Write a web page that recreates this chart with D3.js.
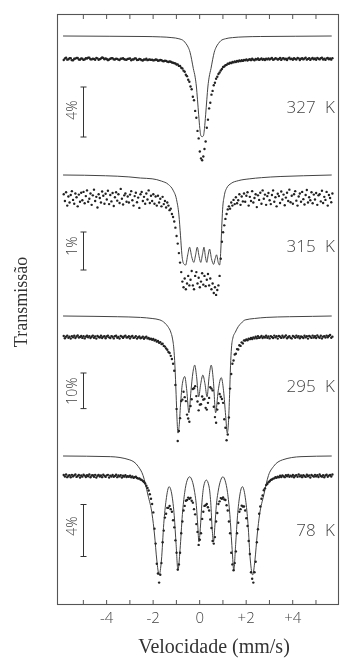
<!DOCTYPE html>
<html>
<head>
<meta charset="utf-8">
<script src="https://cdn.jsdelivr.net/npm/d3@7"></script>
<style>
  html, body { margin: 0; padding: 0; background: #fff; }
  svg { display: block; filter: grayscale(1); }
</style>
</head>
<body>
<svg id="chart" width="342" height="659"></svg>
<script>
// velocity channels, mm/s (-5.8 ... 5.75, step 0.05)
const velStart = -5.8, velStep = 0.05, velCount = 232;
const velocity = d3.range(velCount).map(i => +(velStart + i * velStep).toFixed(2));

const temperatures = ['327 K', '315 K', '295 K', '78 K'];
const scaleBarPct = [4, 1, 10, 4];
const scaleBarText = ['4%', '1%', '10%', '4%'];
const xTicks = [-5, -4, -3, -2, -1, 0, 1, 2, 3, 4, 5];
const xTickText = { '-4': '-4', '-2': '-2', '0': '0', '2': '+2', '4': '+4' };

// measured points, % relative to baseline (negative = absorption)
// rows: -5.8..-5.05 | -5..-4.05 | ... | 4..4.95 | 5..5.75
const dots327 = [
  -0.08, 0.04, 0.1, -0.05, -0.02, 0.07, 0.06, -0.09, -0.1, 0.02, 0.03, 0.09, 0.08, -0.04, -0.05, 0.05,
  0.02, -0.07, -0.03, 0.06, 0.04, 0.11, 0.1, -0.02, -0.03, 0.03, 0.0, -0.06, 0.09, 0.05, -0.06, -0.01, 0.05, 0.12, 0.08, -0.02,
  0.04, 0.0, -0.09, -0.04, 0.02, 0.06, 0.07, -0.03, -0.04, 0.03, 0.01, -0.05, -0.08, 0.02, 0.03, 0.06, -0.02, -0.05, -0.06, 0.01,
  0.02, 0.05, -0.1, -0.03, -0.04, 0.04, 0.05, -0.08, -0.07, 0.0, -0.02, -0.09, -0.12, -0.03, -0.05, 0.02, -0.09, -0.06, -0.03, -0.07,
  -0.05, -0.11, -0.09, -0.04, -0.06, -0.14, -0.12, -0.08, -0.1, -0.16, -0.18, -0.13, -0.15, -0.21, -0.24, -0.2, -0.22, -0.28, -0.3, -0.33,
  -0.36, -0.44, -0.43, -0.55, -0.56, -0.7, -0.76, -0.93, -1.02, -1.26, -1.37, -1.66, -1.82, -2.2, -2.42, -3.02, -3.3, -4.15, -4.7, -5.75,
  -6.35, -7.4, -7.95, -8.1, -7.8, -7.2, -6.6, -5.5, -4.85, -3.95, -3.5, -2.85, -2.55, -2.1, -1.9, -1.58, -1.42, -1.2, -1.08, -0.92,
  -0.8, -0.64, -0.6, -0.5, -0.47, -0.37, -0.38, -0.3, -0.33, -0.24, -0.27, -0.19, -0.24, -0.16, -0.2, -0.12, -0.17, -0.1, -0.15, -0.08,
  -0.1, -0.03, -0.12, -0.06, -0.02, -0.09, 0.02, -0.05, -0.1, 0.01, -0.04, 0.05, -0.07, -0.02, 0.04, -0.06, 0.0, -0.08, 0.03, -0.03,
  0.05, -0.04, 0.02, 0.08, -0.06, -0.02, 0.07, 0.03, -0.05, 0.0, 0.09, -0.07, 0.04, 0.06, -0.03, 0.02, -0.08, 0.05, 0.1, -0.01,
  0.03, -0.06, 0.07, 0.0, -0.04, 0.09, 0.05, -0.08, 0.02, 0.06, -0.03, 0.04, 0.1, -0.05, 0.01, 0.07, -0.07, 0.03, 0.08, -0.02,
  0.04, -0.06, 0.09, 0.02, -0.03, 0.06, 0.1, -0.04, 0.03, -0.07, 0.05, 0.08, -0.02, 0.04, -0.05, 0.07
];
const dots315 = [
  0.1, -0.08, 0.15, -0.2, 0.04, -0.12, 0.08, 0.18, -0.05, -0.15, 0.12, 0.02, -0.22, 0.09, -0.1, 0.14,
  -0.06, 0.16, -0.14, 0.05, 0.2, -0.1, -0.02, 0.12, -0.18, 0.07, 0.22, -0.08, 0.03, -0.25, 0.1, 0.0, -0.12, 0.17, 0.06, -0.15,
  0.11, -0.04, 0.19, -0.16, 0.08, -0.09, 0.13, -0.21, 0.02, 0.15, -0.07, 0.1, -0.13, 0.24, -0.02, -0.17, 0.07, 0.12, -0.1, 0.04,
  -0.12, 0.09, 0.18, -0.06, -0.2, 0.05, 0.14, -0.11, 0.01, -0.26, 0.1, 0.16, -0.08, 0.03, -0.15, 0.12, -0.04, 0.2, -0.13, 0.06,
  -0.08, 0.1, -0.15, 0.04, -0.2, 0.06, -0.12, -0.02, -0.22, 0.03, -0.16, -0.08, -0.25, -0.12, -0.2, -0.32, -0.28, -0.42, -0.5, -0.62,
  -0.78, -1.0, -1.2, -1.45, -1.7, -1.95, -2.2, -2.35, -2.12, -2.4, -2.25, -2.05, -2.3, -2.15, -1.92, -2.3, -2.4, -2.05, -1.95, -2.25,
  -2.1, -2.35, -2.2, -1.98, -2.28, -2.05, -2.32, -2.15, -2.0, -2.3, -2.12, -2.4, -2.25, -2.5, -2.35, -2.55, -2.42, -2.3, -2.05, -1.6,
  -1.15, -0.9, -0.72, -0.55, -0.42, -0.3, -0.22, -0.28, -0.12, -0.2, -0.05, -0.16, 0.02, -0.14, -0.06, 0.1, -0.18, 0.04, -0.09, 0.12,
  -0.1, 0.06, 0.15, -0.2, 0.03, -0.08, 0.18, -0.12, 0.0, 0.1, -0.24, 0.07, -0.05, 0.14, -0.15, 0.2, -0.02, 0.09, -0.18, 0.05,
  0.13, -0.06, -0.16, 0.08, 0.2, -0.1, 0.02, -0.22, 0.11, 0.05, -0.13, 0.17, -0.04, 0.09, -0.19, 0.01, 0.14, -0.08, 0.22, -0.11,
  0.06, -0.15, 0.1, 0.18, -0.07, -0.2, 0.04, 0.12, -0.1, 0.16, -0.03, -0.17, 0.08, 0.21, -0.12, 0.02, -0.06, 0.15, -0.14, 0.09,
  -0.04, 0.13, -0.18, 0.07, 0.1, -0.09, 0.19, -0.13, 0.03, -0.05, 0.16, -0.2, 0.08, 0.0, -0.11, 0.12
];
const dots295 = [
  0.3, -0.35, 0.1, 0.4, -0.2, 0.05, -0.45, 0.25, -0.1, 0.35, -0.3, 0.15, 0.45, -0.15, 0.0, 0.3,
  -0.25, 0.2, -0.4, 0.1, 0.35, -0.1, 0.25, -0.3, 0.05, 0.4, -0.2, 0.15, -0.45, 0.3, 0.0, -0.15, 0.35, -0.3, 0.1, 0.2,
  -0.35, 0.15, 0.4, -0.1, -0.3, 0.25, 0.05, -0.4, 0.2, 0.35, -0.2, 0.0, -0.45, 0.3, 0.1, -0.25, 0.15, 0.4, -0.15, -0.05,
  0.2, -0.4, 0.1, 0.3, -0.25, -0.1, 0.25, -0.45, -0.05, 0.15, -0.35, -0.2, 0.05, -0.5, -0.15, 0.1, -0.4, -0.3, -0.6, -0.45,
  -0.8, -0.55, -1.0, -0.85, -1.3, -1.1, -1.6, -1.45, -2.0, -1.9, -2.5, -2.7, -3.2, -3.6, -4.2, -4.5, -5.3, -6.2, -7.5, -9.5,
  -13.5, -20.2, -29.2, -26.4, -22.8, -18.0, -17.6, -15.4, -16.9, -18.0, -21.8, -22.9, -23.8, -19.4, -17.5, -14.6, -14.4, -13.8, -16.6, -18.1,
  -20.6, -19.0, -18.9, -16.7, -17.6, -17.4, -19.9, -20.4, -18.5, -17.1, -14.1, -14.5, -15.0, -19.6, -22.5, -24.1, -20.4, -18.6, -16.0, -16.8,
  -17.4, -18.5, -23.1, -25.5, -29.0, -27.4, -22.6, -14.5, -10.4, -7.5, -6.6, -4.9, -4.7, -3.4, -3.5, -2.3, -2.5, -1.5, -1.8, -0.95,
  -1.0, -0.7, -0.9, -0.45, -0.6, -0.3, -0.55, -0.1, -0.4, 0.05, -0.35, 0.2, -0.25, -0.05, 0.3, -0.3, 0.1, -0.15, 0.35, -0.2,
  0.15, -0.4, 0.25, 0.0, -0.3, 0.4, -0.1, 0.2, -0.45, 0.3, 0.05, -0.25, 0.35, -0.15, 0.1, 0.45, -0.35, 0.0, 0.25, -0.2,
  -0.4, 0.3, 0.1, -0.2, 0.4, -0.05, 0.25, -0.35, 0.15, 0.0, -0.3, 0.35, -0.1, 0.2, -0.45, 0.3, 0.05, -0.25, 0.4, -0.15,
  0.2, -0.3, 0.45, 0.0, -0.2, 0.35, -0.4, 0.1, 0.25, -0.15, 0.4, -0.05, 0.3, 0.55, -0.2, 0.1
];
const dots78 = [
  0.08, -0.04, 0.11, -0.09, 0.02, 0.06, -0.1, 0.09, -0.03, 0.05, 0.12, -0.07, 0.0, 0.08, -0.11, 0.04,
  -0.05, 0.1, 0.03, -0.08, 0.07, -0.02, 0.11, -0.1, 0.04, 0.06, -0.06, 0.09, -0.12, 0.02, 0.08, -0.04, 0.05, -0.09, 0.1, 0.01,
  -0.07, 0.05, 0.09, -0.11, 0.03, -0.04, 0.08, -0.06, 0.0, 0.1, -0.09, 0.04, -0.03, 0.07, -0.12, 0.02, -0.05, 0.06, -0.08, -0.02,
  -0.06, 0.03, -0.1, -0.04, -0.13, -0.1, -0.06, -0.15, -0.2, -0.18, -0.27, -0.3, -0.38, -0.46, -0.58, -0.75, -0.92, -1.12, -1.4, -1.75,
  -2.15, -2.8, -4.05, -5.2, -6.75, -7.5, -8.2, -7.6, -6.7, -5.1, -4.2, -3.2, -2.9, -2.45, -2.45, -2.3, -2.55, -2.75, -3.4, -3.95,
  -4.95, -5.9, -7.2, -6.8, -5.9, -4.4, -3.5, -2.65, -2.3, -1.9, -1.85, -1.66, -1.76, -1.68, -1.9, -2.05, -2.55, -2.95, -3.7, -4.3,
  -5.3, -4.9, -4.4, -3.3, -2.75, -2.3, -2.25, -2.15, -2.4, -2.65, -3.35, -4.0, -5.0, -5.2, -4.7, -3.5, -2.85, -2.15, -1.95, -1.7,
  -1.75, -1.65, -1.8, -1.85, -2.25, -2.65, -3.5, -4.4, -5.9, -6.8, -7.25, -6.7, -5.8, -4.4, -3.6, -2.75, -2.55, -2.28, -2.35, -2.35,
  -2.65, -3.25, -3.85, -5.0, -6.0, -7.4, -7.9, -8.2, -7.4, -6.6, -5.1, -4.1, -2.9, -2.35, -1.75, -1.5, -1.1, -0.95, -0.7, -0.62,
  -0.48, -0.4, -0.3, -0.27, -0.2, -0.18, -0.1, -0.14, -0.05, -0.1, 0.02, -0.08, 0.05, -0.03, -0.09, 0.06, -0.02, 0.09, -0.06, 0.03,
  -0.04, 0.08, -0.1, 0.02, 0.07, -0.06, 0.11, -0.03, 0.04, -0.09, 0.06, 0.0, -0.07, 0.1, -0.02, 0.05, -0.11, 0.08, 0.01, -0.05,
  0.09, -0.03, 0.06, -0.08, 0.12, 0.0, -0.05, 0.07, -0.1, 0.04, 0.1, -0.06, 0.03, 0.08, -0.04, 0.11
];

// fitted curves, [velocity, %]
const fit327 = [
  [-5.83, 0], [-3.85, -0.02], [-2.35, -0.04], [-1.65, -0.07], [-1.15, -0.13], [-0.85, -0.22],
  [-0.65, -0.38], [-0.55, -0.6], [-0.45, -0.9], [-0.37, -1.3], [-0.3, -1.9], [-0.23, -2.6],
  [-0.15, -3.3], [-0.1, -4.0], [-0.05, -5.1], [0.0, -6.3], [0.05, -7.4], [0.1, -8.0], [0.15, -8.05],
  [0.2, -8.0], [0.25, -7.4], [0.3, -6.3], [0.35, -5.1], [0.4, -4.0], [0.45, -3.3], [0.53, -2.6],
  [0.6, -1.9], [0.67, -1.3], [0.75, -0.9], [0.85, -0.6], [0.95, -0.38], [1.15, -0.22],
  [1.45, -0.13], [1.95, -0.07], [2.65, -0.04], [4.15, -0.02], [5.72, 0]
];
const fit315 = [
  [-5.83, 0], [-4, -0.02], [-3, -0.05], [-2.5, -0.08], [-2.0, -0.1], [-1.6, -0.16], [-1.3, -0.25],
  [-1.1, -0.4], [-0.95, -0.65], [-0.85, -1.05], [-0.78, -1.6], [-0.72, -2.1], [-0.65, -2.33],
  [-0.56, -2.37], [-0.47, -2.1], [-0.39, -1.9], [-0.3, -2.15], [-0.21, -2.3], [-0.13, -2.1],
  [-0.06, -1.9], [0.02, -2.15], [0.09, -2.3], [0.16, -2.1], [0.23, -1.9], [0.29, -2.15],
  [0.35, -2.3], [0.41, -2.1], [0.47, -1.95], [0.55, -2.2], [0.64, -2.35], [0.71, -2.2],
  [0.77, -2.1], [0.84, -2.3], [0.9, -2.37], [0.95, -2.0], [0.99, -1.4], [1.03, -0.9],
  [1.1, -0.55], [1.2, -0.35], [1.4, -0.22], [1.7, -0.15], [2.2, -0.1], [2.7, -0.07],
  [3.5, -0.04], [4.5, -0.02], [5.72, 0]
];
const fit295 = [
  [-5.83, 0], [-4.5, -0.1], [-3.5, -0.2], [-2.5, -0.4], [-2.0, -0.7], [-1.67, -1.1], [-1.45, -2.0],
  [-1.32, -3.0], [-1.2, -4.5], [-1.13, -6.2], [-1.07, -9], [-1.02, -14], [-0.97, -22], [-0.93, -29],
  [-0.89, -32.9], [-0.84, -31], [-0.78, -25], [-0.7, -19], [-0.6, -17], [-0.51, -21], [-0.42, -27.2],
  [-0.33, -21], [-0.25, -16], [-0.17, -13.8], [-0.09, -17], [0.0, -22.7], [0.09, -19], [0.18, -16.6],
  [0.27, -19], [0.36, -22.7], [0.45, -17], [0.54, -13.8], [0.63, -18], [0.73, -27.2], [0.84, -21],
  [0.97, -17.3], [1.07, -21], [1.16, -28], [1.23, -32.9], [1.28, -30], [1.33, -22], [1.37, -14],
  [1.41, -9], [1.47, -6.2], [1.58, -4.5], [1.7, -3.0], [1.83, -2.0], [2.0, -1.1], [2.4, -0.7],
  [2.9, -0.4], [3.9, -0.2], [4.9, -0.1], [5.72, 0]
];
const fit78 = [
  [-5.83, 0], [-3.8, -0.05], [-2.96, -0.3], [-2.6, -0.8], [-2.39, -1.5], [-2.18, -3.0], [-2.0, -4.5],
  [-1.9, -6.0], [-1.8, -8.0], [-1.7, -9.15], [-1.6, -8.0], [-1.5, -5.2], [-1.4, -3.4], [-1.27, -2.36],
  [-1.15, -3.0], [-1.05, -4.6], [-0.97, -6.8], [-0.89, -8.8], [-0.8, -7.2], [-0.7, -4.5], [-0.6, -2.8],
  [-0.5, -1.9], [-0.39, -1.6], [-0.28, -1.9], [-0.18, -2.7], [-0.1, -3.8], [-0.04, -5.3], [0.01, -6.6],
  [0.07, -5.6], [0.14, -3.6], [0.22, -2.3], [0.33, -1.85], [0.44, -2.3], [0.52, -3.6], [0.58, -5.6],
  [0.64, -6.6], [0.7, -5.3], [0.76, -3.8], [0.84, -2.7], [0.94, -1.9], [1.04, -1.6], [1.14, -1.9],
  [1.24, -2.8], [1.34, -4.5], [1.44, -7.2], [1.51, -8.8], [1.59, -6.8], [1.67, -4.6], [1.77, -3.0],
  [1.88, -2.36], [2.02, -3.4], [2.12, -5.2], [2.22, -8.0], [2.32, -9.15], [2.42, -8.0], [2.52, -6.0],
  [2.62, -4.5], [2.8, -3.0], [3.0, -1.5], [3.22, -0.8], [3.6, -0.3], [4.4, -0.05], [5.72, 0]
];

const dotSeries = [dots327, dots315, dots295, dots78];
const fitSeries = [fit327, fit315, fit295, fit78];

// layout (pixels)
const frame = { left: 57, top: 14, right: 338, bottom: 604 };
const panels = [
  { baseY: 59,  pxPerPct: 12.5, fitShift: 23, barTop: 87,    tempY: 112.5, barLabelY: 110 },
  { baseY: 198, pxPerPct: 38,   fitShift: 23, barTop: 232,   tempY: 251.5, barLabelY: 246 },
  { baseY: 337, pxPerPct: 3.56, fitShift: 21, barTop: 373,   tempY: 391.5, barLabelY: 391 },
  { baseY: 476, pxPerPct: 13,   fitShift: 20, barTop: 504.5, tempY: 535.5, barLabelY: 526 }
];
const ink = '#333';
const thinFont = "'Open Sans', 'DejaVu Sans', sans-serif";
const serifFont = "'Liberation Serif', 'DejaVu Serif', serif";

const svg = d3.select('#chart');
svg.append('rect').attr('width', 342).attr('height', 659).attr('fill', '#fff');

const x = d3.scaleLinear()
  .domain([-6.09, 5.99])
  .range([frame.left, frame.right]);

// frame
svg.append('rect')
  .attr('x', frame.left + 0.5)
  .attr('y', frame.top + 0.5)
  .attr('width', frame.right - frame.left)
  .attr('height', frame.bottom - frame.top)
  .attr('fill', 'none')
  .attr('stroke', '#555')
  .attr('stroke-width', 1.1);

// bottom axis, ticks pointing inward
const xAxis = svg.append('g')
  .attr('transform', `translate(0.5,${frame.bottom + 0.5})`)
  .call(d3.axisBottom(x)
    .tickValues(xTicks)
    .tickSize(-4.5)
    .tickPadding(8)
    .tickFormat(d => xTickText[String(d)] || ''));
xAxis.select('.domain').remove();
xAxis.selectAll('line').attr('stroke', '#555');
xAxis.selectAll('text')
  .attr('font-family', thinFont)
  .attr('font-weight', 300)
  .attr('font-size', 15)
  .attr('fill', '#444');

// top axis, ticks only
const topAxis = svg.append('g')
  .attr('transform', `translate(0.5,${frame.top + 0.5})`)
  .call(d3.axisTop(x).tickValues(xTicks).tickSize(-4.5).tickFormat(''));
topAxis.select('.domain').remove();
topAxis.selectAll('line').attr('stroke', '#555');

// spectra
panels.forEach((p, i) => {
  const y = d3.scaleLinear()
    .domain([0, -1])
    .range([p.baseY, p.baseY + p.pxPerPct]);

  const g = svg.append('g').attr('class', 'spectrum');

  const line = d3.line()
    .x(d => x(d[0]))
    .y(d => y(d[1]) - p.fitShift)
    .curve(d3.curveMonotoneX);

  g.append('path')
    .datum(fitSeries[i])
    .attr('fill', 'none')
    .attr('stroke', '#444')
    .attr('stroke-width', 1)
    .attr('d', line);

  g.selectAll('.dot')
    .data(dotSeries[i])
    .enter().append('circle')
    .attr('class', 'dot')
    .attr('cx', (d, j) => x(velocity[j]))
    .attr('cy', d => y(d))
    .attr('r', 1.2)
    .attr('fill', '#222');

  // vertical scale bar
  const barLen = y(-scaleBarPct[i]) - y(0);
  const bx = 83.5;
  g.append('path')
    .attr('d', `M${bx - 3},${p.barTop}H${bx + 3}M${bx},${p.barTop}V${p.barTop + barLen}M${bx - 3},${p.barTop + barLen}H${bx + 3}`)
    .attr('fill', 'none')
    .attr('stroke', ink)
    .attr('stroke-width', 1);

  g.append('text')
    .attr('transform', `translate(76.5,${p.barLabelY}) rotate(-90)`)
    .attr('text-anchor', 'middle')
    .attr('font-family', thinFont)
    .attr('font-weight', 300)
    .attr('font-size', 14)
    .attr('fill', '#444')
    .text(scaleBarText[i]);

  g.append('text')
    .attr('x', 335)
    .attr('y', p.tempY)
    .attr('text-anchor', 'end')
    .attr('font-family', thinFont)
    .attr('font-weight', 300)
    .attr('font-size', 17)
    .attr('word-spacing', 5)
    .attr('fill', '#444')
    .text(temperatures[i]);
});

// axis titles
svg.append('text')
  .attr('x', 214)
  .attr('y', 653)
  .attr('text-anchor', 'middle')
  .attr('font-family', serifFont)
  .attr('font-size', 20)
  .attr('fill', ink)
  .text('Velocidade (mm/s)');

svg.append('text')
  .attr('transform', 'translate(27,302) rotate(-90)')
  .attr('text-anchor', 'middle')
  .attr('font-family', serifFont)
  .attr('font-size', 18)
  .attr('fill', ink)
  .text('Transmissão');
</script>
</body>
</html>
